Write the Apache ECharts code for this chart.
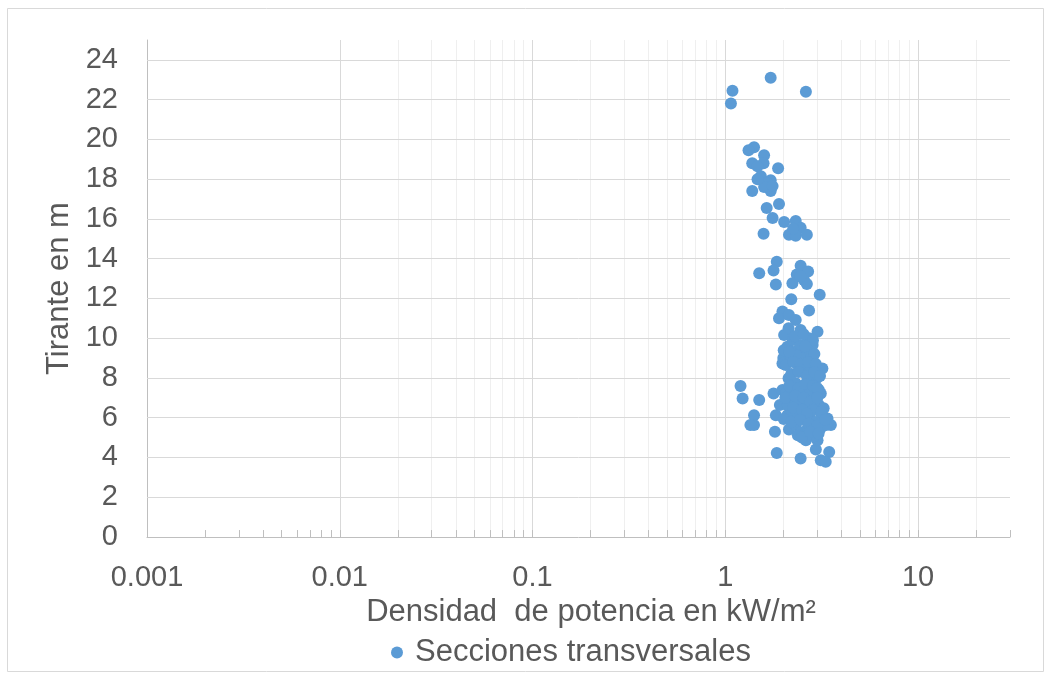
<!DOCTYPE html>
<html>
<head>
<meta charset="utf-8">
<script src="https://cdn.jsdelivr.net/npm/echarts@6/dist/echarts.min.js"></script>
<style>
html,body{margin:0;padding:0;background:#fff;}
#chart{width:1051px;height:679px;}
</style>
</head>
<body>
<div id="chart"></div>
<script>
// ---- Data ----
const seriesName = 'Secciones transversales';
const xValues = [
  1.72, 1.09, 2.62, 1.07, 1.41, 1.32, 1.38, 1.59, 1.58, 1.47,
  1.88, 1.53, 1.72, 1.65, 1.38, 1.72, 1.59, 1.76, 1.47, 1.90,
  1.64, 1.76, 2.02, 2.32, 2.46, 2.14, 2.32, 2.65, 1.58, 2.25,
  1.85, 1.78, 1.50, 1.83, 2.46, 2.69, 2.35, 2.56, 2.23, 2.65,
  2.45, 3.09, 2.20, 2.72, 1.98, 1.90, 2.14, 2.32, 3.01, 2.02,
  2.46, 2.13, 2.72, 2.10, 2.37, 2.78, 2.23, 2.62, 2.00, 1.98,
  3.19, 3.13, 1.20, 1.23, 1.50, 1.78, 1.98, 1.41, 1.41, 1.35,
  1.83, 2.10, 1.81, 2.14, 1.85, 2.46, 2.95, 3.46, 3.13, 3.32,
  3.39, 3.53, 3.01, 2.67,
  2.24, 2.46, 2.65, 2.84, 2.19, 2.38, 2.55, 2.78, 2.98, 2.13,
  2.32, 2.52, 2.71, 2.88, 2.08, 2.24, 2.43, 2.65, 2.84, 3.06,
  2.19, 2.38, 2.55, 2.74, 2.95, 3.17, 2.32, 2.46, 2.68, 2.88,
  3.13, 3.34, 2.01, 1.92, 2.06, 2.01, 2.65, 2.49, 2.32, 2.78,
  3.06, 2.11, 2.35, 3.24, 2.62, 2.38,
  2.30, 2.55, 2.85, 2.15, 2.60, 2.90, 2.25, 2.45, 2.70, 2.95,
  2.20, 2.40, 2.65, 2.90, 3.10, 2.15, 2.40, 2.60, 2.85, 3.00,
  2.05, 2.30, 2.55, 2.75, 3.00, 2.25, 2.50, 2.85, 3.15, 2.65,
  2.20, 2.45, 2.70, 3.00, 3.30, 2.50, 2.75, 3.05
];
const yValues = [
  23.1, 22.45, 22.4, 21.8, 19.6, 19.45, 18.8, 19.2, 18.8, 18.65,
  18.55, 18.15, 17.95, 17.8, 17.4, 17.4, 17.6, 17.65, 18.0, 16.75,
  16.55, 16.05, 15.85, 15.9, 15.55, 15.2, 15.15, 15.2, 15.25, 15.5,
  13.85, 13.4, 13.27, 12.7, 13.64, 13.35, 13.2, 12.93, 12.77, 12.73,
  13.1, 12.18, 11.96, 11.39, 11.34, 11.0, 11.17, 10.92, 10.33, 10.16,
  10.41, 10.5, 10.0, 9.57, 9.4, 9.4, 9.1, 9.07, 9.0, 8.73,
  8.48, 7.22, 7.59, 6.97, 6.89, 7.22, 7.39, 6.13, 5.63, 5.63,
  6.13, 6.13, 5.29, 5.41, 4.23, 3.95, 4.40, 4.28, 3.86, 3.78,
  5.96, 5.63, 4.87, 5.2,
  9.91, 9.66, 9.30, 9.66, 8.90, 8.65, 8.30, 8.49, 7.99, 7.99,
  7.74, 7.49, 7.79, 7.29, 7.29, 6.99, 6.79, 6.58, 6.99, 6.64,
  6.38, 6.18, 5.93, 6.13, 5.78, 6.13, 5.63, 5.27, 5.48, 5.07,
  5.48, 5.63, 5.93, 6.64, 8.65, 9.40, 7.29, 8.99, 9.15, 8.99,
  7.39, 6.64, 7.29, 6.48, 4.87, 5.12,
  10.1, 10.2, 9.9, 9.3, 9.6, 9.2, 8.8, 8.7, 8.8, 8.7,
  8.2, 8.3, 8.1, 8.3, 8.1, 7.6, 7.5, 7.7, 7.6, 7.5,
  7.0, 7.1, 7.0, 6.8, 7.0, 6.5, 6.4, 6.4, 6.3, 6.2,
  5.8, 5.9, 5.7, 5.6, 5.9, 5.0, 5.3, 5.2
];
const xMajorTicks = [0.001, 0.01, 0.1, 1, 10];
const xTickLabels = ['0.001', '0.01', '0.1', '1', '10'];
const xMinorMultipliers = [2, 3, 4, 5, 6, 7, 8, 9];
const xMax = 30;
const yTicks = [0, 2, 4, 6, 8, 10, 12, 14, 16, 18, 20, 22, 24];
const yMax = 25;
const xTitle = 'Densidad  de potencia en kW/m²';
const yTitle = 'Tirante en m';

// ---- build ----
const FONT = '"Liberation Sans", Arial, sans-serif';
const TXT = '#595959';
const points = xValues.map((x, i) => [x, yValues[i]]);
const xMinor = [];
xMajorTicks.forEach(m => xMinorMultipliers.forEach(k => {
  const v = +(m * k).toPrecision(6);
  if (v < xMax) xMinor.push(v);
}));
const allXTicks = xMajorTicks.concat(xMinor);

const chart = echarts.init(document.getElementById('chart'), null, {renderer: 'canvas'});
const option = {
  animation: false,
  backgroundColor: '#ffffff',
  textStyle: {fontFamily: FONT},
  graphic: [{
    type: 'rect', silent: true,
    shape: {x: 7.5, y: 8.5, width: 1036, height: 663},
    style: {fill: 'none', stroke: '#d9d9d9', lineWidth: 1}
  }],
  grid: {left: 147, right: 41, top: 40, bottom: 142},
  legend: {
    data: [seriesName],
    left: 386, top: 632,
    icon: 'circle', itemWidth: 12, itemHeight: 12,
    textStyle: {fontSize: 31, color: TXT, fontFamily: FONT, padding: [0, 0, 0, 7]}
  },
  xAxis: {
    type: 'log', logBase: 10, min: xMajorTicks[0], max: xMax,
    name: xTitle, nameLocation: 'middle', nameGap: 48,
    nameTextStyle: {fontSize: 31, color: TXT, fontFamily: FONT, padding: [0, 0, 0, 25]},
    axisLine: {show: true, lineStyle: {color: '#bfbfbf', width: 1}},
    axisTick: {show: false},
    splitLine: {show: false},
    axisLabel: {
      fontSize: 29, color: TXT, fontFamily: FONT, margin: 26,
      formatter: v => {
        for (let i = 0; i < xMajorTicks.length; i++) {
          if (Math.abs(Math.log10(v) - Math.log10(xMajorTicks[i])) < 1e-6) return xTickLabels[i];
        }
        return '';
      }
    }
  },
  yAxis: {
    type: 'value', min: yTicks[0], max: yMax, interval: 2,
    name: yTitle, nameLocation: 'middle', nameGap: 72, nameRotate: 90,
    nameTextStyle: {fontSize: 31, color: TXT, fontFamily: FONT},
    axisLine: {show: true, lineStyle: {color: '#bfbfbf', width: 1}},
    axisTick: {show: false},
    splitLine: {show: false},
    axisLabel: {
      fontSize: 29, color: TXT, fontFamily: FONT, margin: 29, showMaxLabel: false,
      formatter: v => (yTicks.indexOf(v) >= 0 ? String(v) : '')
    }
  },
  series: [
    {
      name: 'minorGrid', type: 'scatter', data: [], z: 1, silent: true,
      markLine: {
        z: 1, silent: true, symbol: 'none', label: {show: false}, animation: false,
        lineStyle: {type: 'solid', color: '#efefef', width: 1},
        data: xMinor.map(v => ({xAxis: v}))
      }
    },
    {
      name: 'majorGrid', type: 'scatter', data: [], z: 1, silent: true,
      markLine: {
        z: 1, silent: true, symbol: 'none', label: {show: false}, animation: false,
        lineStyle: {type: 'solid', color: '#d9d9d9', width: 1},
        data: xMajorTicks.slice(1).map(v => ({xAxis: v})).concat(yTicks.slice(1).map(v => ({yAxis: v})))
      }
    },
    {
      name: 'ticks', type: 'scatter', data: [], z: 1, silent: true,
      markLine: {
        z: 1, silent: true, symbol: 'none', label: {show: false}, animation: false,
        lineStyle: {type: 'solid', color: '#bfbfbf', width: 1},
        data: allXTicks.concat([xMax]).map(v => [{coord: [v, 0]}, {coord: [v, 0.35]}])
      }
    },
    {
      name: seriesName, type: 'scatter', z: 5,
      symbol: 'circle', symbolSize: 12,
      itemStyle: {color: '#5b9bd5', opacity: 1},
      data: points
    }
  ]
};
chart.setOption(option);
</script>
</body>
</html>
